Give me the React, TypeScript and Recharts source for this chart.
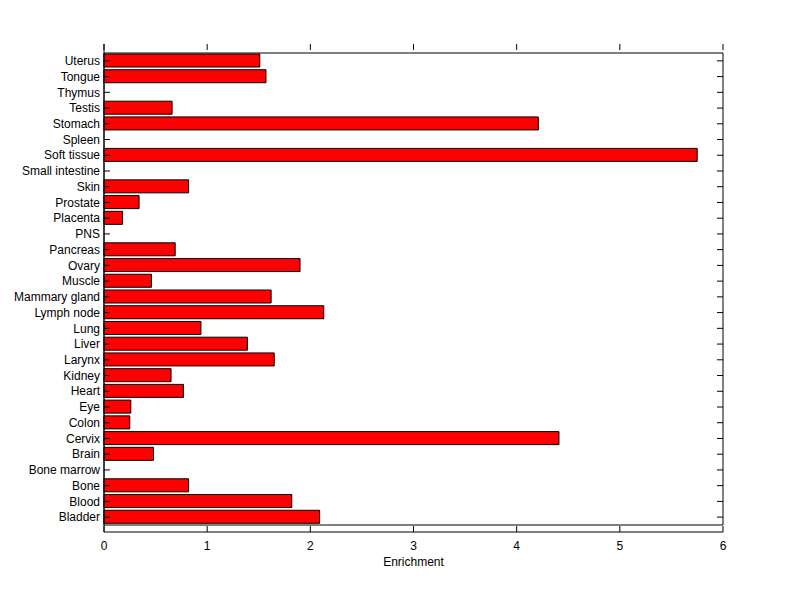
import { BarChart, Bar, XAxis, YAxis, ReferenceArea } from "recharts";

// alphabetical, Bladder is drawn at the bottom
const tissues = [
  "Bladder", "Blood", "Bone", "Bone marrow", "Brain", "Cervix", "Colon", "Eye",
  "Heart", "Kidney", "Larynx", "Liver", "Lung", "Lymph node", "Mammary gland",
  "Muscle", "Ovary", "Pancreas", "PNS", "Placenta", "Prostate", "Skin",
  "Small intestine", "Soft tissue", "Spleen", "Stomach", "Testis", "Thymus",
  "Tongue", "Uterus",
];
const enrichment = [
  2.09, 1.82, 0.82, 0, 0.48, 4.41, 0.25, 0.26,
  0.77, 0.65, 1.65, 1.39, 0.94, 2.13, 1.62,
  0.46, 1.90, 0.69, 0, 0.18, 0.34, 0.82,
  0, 5.75, 0, 4.21, 0.66, 0,
  1.57, 1.51,
];
const xTicks = [0, 1, 2, 3, 4, 5, 6];

const data = tissues.map((name, i) => ({ name, value: enrichment[i] }));

const W = 784;
const H = 583;
const M = { top: 36, right: 69, left: 0, bottom: 19 };
const Y_W = 96;
const X_H = 40;
const LEFT = M.left + Y_W;
const RIGHT = W - M.right;
const TOP = M.top;
const BOTTOM = H - M.bottom - X_H;
const TICK = 6;

const YTick = (props: any) => {
  const { y, payload } = props;
  return (
    <g>
      <line x1={LEFT} x2={LEFT + TICK} y1={y} y2={y} stroke="#000" />
      <line x1={RIGHT - TICK} x2={RIGHT} y1={y} y2={y} stroke="#000" />
      <text x={LEFT - 4} y={y} dy="0.35em" textAnchor="end" fontSize={12} fill="#000">
        {payload.value}
      </text>
    </g>
  );
};

const XTick = (props: any) => {
  const { x, payload } = props;
  return (
    <g>
      <line x1={x} x2={x} y1={BOTTOM} y2={BOTTOM - TICK} stroke="#000" />
      <line x1={x} x2={x} y1={TOP} y2={TOP + TICK} stroke="#000" />
      <text x={x} y={BOTTOM + 14} dy="0.35em" textAnchor="middle" fontSize={12} fill="#000">
        {payload.value}
      </text>
    </g>
  );
};

export default function App() {
  return (
    <BarChart
      width={W}
      height={H}
      data={data}
      layout="vertical"
      margin={M}
      style={{ fontFamily: "'Liberation Sans', Arial, sans-serif" }}
    >
      <XAxis
        type="number"
        dataKey="value"
        domain={[0, 6]}
        ticks={xTicks}
        height={X_H}
        tickSize={0}
        tickLine={false}
        axisLine={{ stroke: "#000" }}
        tick={<XTick />}
        label={{ value: "Enrichment", position: "insideBottom", offset: 6, fill: "#000", fontSize: 12 }}
      />
      <YAxis
        type="category"
        dataKey="name"
        reversed
        width={Y_W}
        interval={0}
        padding={{ top: 9, bottom: 7 }}
        tickSize={0}
        tickLine={false}
        axisLine={{ stroke: "#000" }}
        tick={<YTick />}
      />
      <Bar dataKey="value" fill="#ff0000" stroke="#000" barSize={13} isAnimationActive={false} />
      <ReferenceArea x1={0} x2={6} fill="none" stroke="#000" strokeWidth={1} fillOpacity={0} />
    </BarChart>
  );
}
